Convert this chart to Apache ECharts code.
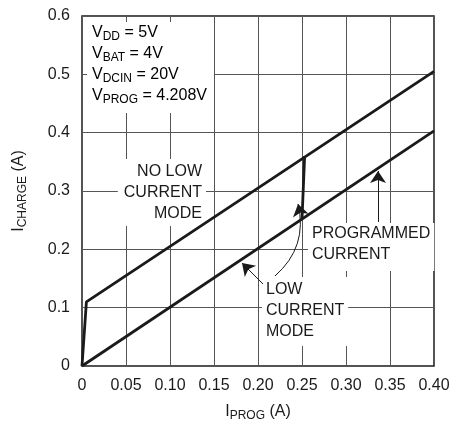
<!DOCTYPE html>
<html>
<head>
<meta charset="utf-8">
<script src="https://cdn.jsdelivr.net/npm/echarts@6/dist/echarts.min.js"></script>
<style>
	html, body { margin: 0; padding: 0; background: #fff; }
	#chart { width: 450px; height: 421px; }
</style>
</head>
<body>
<div id="chart"></div>
<script>
	// 数据
	var noLowX = [0, 0.005, 0.4];
	var noLowY = [0, 0.11, 0.505];
	var programmedX = [0, 0.4];
	var programmedY = [0, 0.403];
	var lowModeX = [0.25, 0.253];
	var lowModeY = [0.252, 0.36];

	// arrows: [tailX, tailY, headX, headY]
	var arrowLow = [0.2057, 0.1406, 0.1818, 0.1766];
	var arrowLowCurve = [0.2193, 0.1543, 0.2455, 0.2777];
	var arrowProg = [0.3364, 0.2469, 0.3364, 0.3343];

	var FONT = '"Liberation Sans", Arial, sans-serif';
	var INK = '#1a1a1a';

	function pairs(xs, ys) {
		return xs.map(function (x, i) { return [x, ys[i]]; });
	}

	function curveLine(name, data) {
		return {
			name: name,
			type: 'line',
			data: data,
			showSymbol: false,
			animation: false,
			lineStyle: { color: INK, width: 2.8 },
			z: 3
		};
	}

	function arrowSeries(list, curveness) {
		return {
			type: 'lines',
			coordinateSystem: 'cartesian2d',
			silent: true,
			animation: false,
			z: 4,
			symbol: ['none', 'arrow'],
			symbolSize: [7, 12],
			lineStyle: { color: INK, width: 1, opacity: 1, curveness: curveness },
			data: list.map(function (a) {
				return { coords: [[a[0], a[1]], [a[2], a[3]]] };
			})
		};
	}

	var subRich = {
		m: { fontFamily: FONT, fontSize: 16, color: INK, lineHeight: 21 },
		s: { fontFamily: FONT, fontSize: 12, color: INK, lineHeight: 12, verticalAlign: 'bottom' }
	};

	var chart = echarts.init(document.getElementById('chart'));
	var option = {
		backgroundColor: '#fff',
		animation: false,
		grid: {
			left: 82, right: 16, top: 16, bottom: 55,
			outerBoundsMode: 'none',
			show: true,
			borderColor: INK,
			borderWidth: 1.5
		},
		xAxis: {
			type: 'value',
			min: 0, max: 0.4, interval: 0.05,
			name: '{m|I}{s|PROG}{m| (A)}',
			nameLocation: 'middle',
			nameGap: 35,
			nameTextStyle: { rich: subRich },
			axisLine: { show: false },
			axisTick: { show: false },
			axisLabel: {
				margin: 12,
				fontFamily: FONT, fontSize: 16, color: INK,
				formatter: function (v) { return v === 0 ? '0' : v.toFixed(2); }
			},
			splitLine: { lineStyle: { color: '#555', width: 1 } }
		},
		yAxis: {
			type: 'value',
			min: 0, max: 0.6, interval: 0.1,
			name: '{m|I}{s|CHARGE}{m| (A)}',
			nameLocation: 'middle',
			nameRotate: 90,
			nameGap: 53,
			nameTextStyle: { rich: subRich },
			axisLine: { show: false },
			axisTick: { show: false },
			axisLabel: {
				margin: 12,
				fontFamily: FONT, fontSize: 16, color: INK,
				formatter: function (v) { return v === 0 ? '0' : v.toFixed(1); }
			},
			splitLine: { lineStyle: { color: '#555', width: 1 } }
		},
		graphic: [
			{
				type: 'rect', z: 1,
				shape: { x: 87, y: 22, width: 127, height: 91 },
				style: { fill: '#fff' }
			},
			{
				type: 'text', z: 1, x: 92, y: 22,
				style: {
					text: '{m|V}{s|DD}{m| = 5V}\n{m|V}{s|BAT}{m| = 4V}\n{m|V}{s|DCIN}{m| = 20V}\n{m|V}{s|PROG}{m| = 4.208V}',
					rich: subRich
				}
			},
			{
				type: 'text', z: 1, x: 206, y: 159,
				style: {
					text: 'NO LOW\nCURRENT\nMODE',
					align: 'right',
					font: '16px ' + FONT, fill: INK, lineHeight: 21,
					backgroundColor: '#fff', padding: [2, 4, 2, 6]
				}
			},
			{
				type: 'text', z: 1, x: 308, y: 223,
				style: {
					text: 'PROGRAMMED\nCURRENT',
					font: '16px ' + FONT, fill: INK, lineHeight: 21,
					backgroundColor: '#fff', padding: [0, 4, 6, 4]
				}
			},
			{
				type: 'text', z: 1, x: 262, y: 277,
				style: {
					text: 'LOW\nCURRENT\nMODE',
					font: '16px ' + FONT, fill: INK, lineHeight: 21,
					backgroundColor: '#fff', padding: [2, 4, 4, 4]
				}
			}
		],
		series: [
			curveLine('no low current', pairs(noLowX, noLowY)),
			curveLine('programmed', pairs(programmedX, programmedY)),
			curveLine('low current', pairs(lowModeX, lowModeY)),
			arrowSeries([arrowLow, arrowProg], 0),
			arrowSeries([arrowLowCurve], -0.3)
		]
	};
	chart.setOption(option);
</script>
</body>
</html>
